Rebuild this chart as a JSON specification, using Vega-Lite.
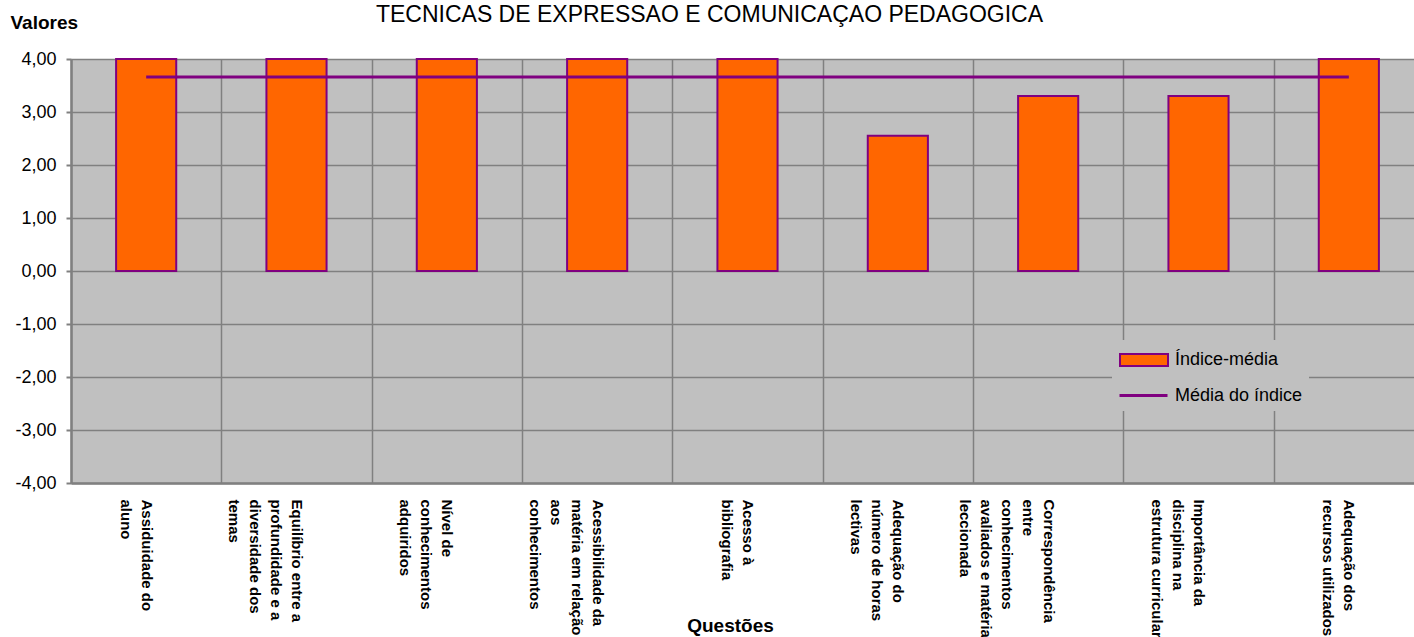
{
  "$schema": "https://vega.github.io/schema/vega-lite/v6.json",
  "width": 1353,
  "height": 424,
  "autosize": {"type": "none"},
  "padding": {"left": 71, "top": 59, "right": -10, "bottom": 154},
  "background": "white",
  "title": {
    "text": "TECNICAS DE EXPRESSAO E COMUNICAÇAO PEDAGOGICA",
    "font": "Liberation Sans",
    "fontSize": 23,
    "fontWeight": "normal",
    "color": "black",
    "anchor": "middle",
    "frame": "group",
    "baseline": "alphabetic",
    "offset": 0,
    "dx": -38,
    "dy": 32
  },
  "data": {
    "values": [
      {"q": "Assiduidade do\naluno", "indice": 4.0, "media": 3.66},
      {"q": "Equilíbrio entre a\nprofundidade e a\ndiversidade dos\ntemas", "indice": 4.0, "media": 3.66},
      {"q": "Nível de\nconhecimentos\nadquiridos", "indice": 4.0, "media": 3.66},
      {"q": "Acessibilidade da\nmatéria em relação\naos\nconhecimentos", "indice": 4.0, "media": 3.66},
      {"q": "Acesso à\nbibliografia", "indice": 4.0, "media": 3.66},
      {"q": "Adequação do\nnúmero de horas\nlectivas", "indice": 2.55, "media": 3.66},
      {"q": "Correspondência\nentre\nconhecimentos\navaliados e matéria\nleccionada", "indice": 3.3, "media": 3.66},
      {"q": "Importância da\ndisciplina na\nestrutura curricular", "indice": 3.3, "media": 3.66},
      {"q": "Adequação dos\nrecursos utilizados", "indice": 4.0, "media": 3.66}
    ]
  },
  "encoding": {
    "x": {
      "field": "q",
      "type": "nominal",
      "sort": null,
      "scale": {"paddingInner": 0, "paddingOuter": 0},
      "axis": {
        "title": "Questões",
        "labelAngle": 90,
        "labelAlign": "left",
        "labelBaseline": "middle",
        "labelExpr": "isValid(datum.value) ? split(datum.value, '\\n') : ''",
        "labelFont": "Liberation Sans",
        "labelFontSize": 15,
        "labelFontWeight": "bold",
        "labelColor": "black",
        "labelLineHeight": 21,
        "labelPadding": 16,
        "labelLimit": 1000,
        "labelOverlap": false,
        "ticks": false,
        "tickBand": "extent",
        "grid": true,
        "gridColor": "#808080",
        "gridWidth": 1.5,
        "domainColor": "#808080",
        "domainWidth": 2.5,
        "titleX": 659,
        "titleY": 142,
        "titleBaseline": "middle",
        "titleAlign": "center",
        "titleFont": "Liberation Sans",
        "titleFontSize": 19,
        "titleFontWeight": "bold",
        "titleColor": "black",
        "encode": {
          "labels": {
            "update": {
              "dy": {"signal": "isValid(datum.value) ? -(length(split(datum.value, '\\n')) - 1) * 10.5 : 0"}
            }
          }
        }
      }
    }
  },
  "layer": [
    {
      "mark": {"type": "bar", "width": {"band": 0.4}, "stroke": "#800080", "strokeWidth": 2, "opacity": 1},
      "encoding": {
        "y": {
          "field": "indice",
          "type": "quantitative",
          "scale": {"domain": [-4, 4], "nice": false},
          "axis": {
            "title": "Valores",
            "values": [-4, -3, -2, -1, 0, 1, 2, 3, 4],
            "format": ".2f",
            "labelFont": "Liberation Sans",
            "labelFontSize": 18,
            "labelColor": "black",
            "labelPadding": 10,
            "tickSize": 5,
            "tickColor": "#808080",
            "tickWidth": 2,
            "grid": true,
            "gridColor": "#808080",
            "gridWidth": 1.5,
            "domainColor": "#808080",
            "domainWidth": 2.5,
            "titleAngle": 0,
            "titleX": -61,
            "titleY": -37,
            "titleAlign": "left",
            "titleBaseline": "middle",
            "titleFont": "Liberation Sans",
            "titleFontSize": 19,
            "titleFontWeight": "bold",
            "titleColor": "black"
          }
        },
        "fill": {
          "datum": "Índice-média",
          "type": "nominal",
          "scale": {"domain": ["Índice-média"], "range": ["#FF6600"]},
          "legend": {
            "orient": "none",
            "legendX": 1041,
            "legendY": 281,
            "title": null,
            "fillColor": "#C0C0C0",
            "strokeColor": null,
            "padding": 7,
            "symbolSize": 576,
            "symbolType": "M-1,-0.5H3V0.5H-1Z",
            "symbolStrokeColor": "#800080",
            "symbolStrokeWidth": 2,
            "symbolOpacity": 1,
            "labelFont": "Liberation Sans",
            "labelFontSize": 18,
            "labelColor": "black",
            "labelOffset": 30
          }
        }
      }
    },
    {
      "mark": {"type": "line", "strokeWidth": 3},
      "encoding": {
        "y": {"field": "media", "type": "quantitative", "title": "Valores"},
        "stroke": {
          "datum": "Média do índice",
          "type": "nominal",
          "scale": {"domain": ["Média do índice"], "range": ["#800080"]},
          "legend": {
            "orient": "none",
            "legendX": 1041,
            "legendY": 317,
            "title": null,
            "fillColor": "#C0C0C0",
            "strokeColor": null,
            "padding": 6,
            "symbolSize": 576,
            "symbolType": "M-1,0H3",
            "symbolStrokeWidth": 3,
            "symbolOpacity": 1,
            "labelFont": "Liberation Sans",
            "labelFontSize": 18,
            "labelColor": "black",
            "labelOffset": 30
          }
        }
      }
    }
  ],
  "config": {
    "locale": {"number": {"decimal": ",", "thousands": ".", "grouping": [3], "currency": ["", " €"], "minus": "-"}},
    "view": {"fill": "#C0C0C0", "stroke": null},
    "font": "Liberation Sans"
  }
}
